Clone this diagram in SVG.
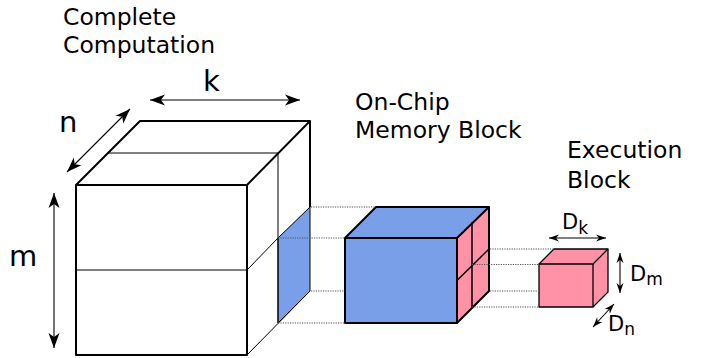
<svg xmlns="http://www.w3.org/2000/svg" width="713" height="358" viewBox="0 0 713 358">
<style>
text{font-family:"DejaVu Sans",Verdana,sans-serif;fill:#000}
.lbl{font-size:23.5px}
.dim{font-size:29px}
.d{font-size:21px}
.sub{font-size:17px}
.outer{fill:none;stroke:#000;stroke-width:2;stroke-linejoin:round}
.thin{fill:none;stroke:#000;stroke-width:1}
.dot{fill:none;stroke:#555;stroke-width:1;stroke-dasharray:1.2,1.2}
.blue{fill:#789fe7}
.pink{fill:#ff92a7}
.arr{stroke:#000;stroke-width:1.1;fill:none}
.big{marker-start:url(#hb);marker-end:url(#hb)}
.small{marker-start:url(#hs);marker-end:url(#hs)}
</style>
<defs>
<marker id="hb" markerUnits="userSpaceOnUse" markerWidth="16" markerHeight="12" refX="15" refY="5.5" orient="auto-start-reverse" overflow="visible">
<path d="M0,0 L15,5.5 L0,11 L4,5.5 Z" fill="#000"/>
</marker>
<marker id="hs" markerUnits="userSpaceOnUse" markerWidth="11" markerHeight="8" refX="10" refY="3.5" orient="auto-start-reverse" overflow="visible">
<path d="M0,0 L10,3.5 L0,7 L3,3.5 Z" fill="#000"/>
</marker>
</defs>
<g id="complete-computation">
<text class="lbl" x="63" y="25">Complete</text>
<text class="lbl" x="63" y="53">Computation</text>
<polygon class="blue" points="278,238 310,207 310,291 278,323"/>
<line x1="108" y1="153" x2="278" y2="153" stroke="#555" stroke-width="1.5"/>
<line class="thin" x1="278" y1="153" x2="278" y2="323"/>
<line class="thin" x1="76" y1="270" x2="247" y2="270"/>
<line class="thin" x1="247" y1="270" x2="278" y2="238"/>
<polygon class="thin" points="278,238 310,207 310,291 278,323"/>
<line class="thin" x1="247" y1="355" x2="310" y2="291"/>
<polyline class="outer" points="76,185 140,121 310,121 310,207"/>
<rect class="outer" x="76" y="185" width="171" height="170"/>
<line class="outer" x1="247" y1="185" x2="310" y2="121"/>
</g>
<g id="memory-block">
<text class="lbl" x="355" y="110">On-Chip</text>
<text class="lbl" x="355" y="138">Memory Block</text>
<polygon class="blue" points="345,238 376,207 489,207 457,238"/>
<polygon class="pink" points="457,238 489,207 489,291 457,323"/>
<rect class="blue" x="345" y="238" width="112" height="85"/>
<line x1="472" y1="222" x2="472" y2="307" stroke="#000" stroke-width="1.5"/>
<line x1="457" y1="280.5" x2="489" y2="249" stroke="#000" stroke-width="1.5"/>
<polygon class="outer" points="345,238 376,207 489,207 489,291 457,323 345,323"/>
<polyline class="outer" points="345,238 457,238 489,207"/>
<line class="outer" x1="457" y1="238" x2="457" y2="323"/>
</g>
<g id="execution-block">
<text class="lbl" x="567" y="158">Execution</text>
<text class="lbl" x="567" y="188">Block</text>
<polygon class="pink" points="539,264 554,249 608,249 608,292 593,307 539,307" stroke="#000" stroke-width="1.3" stroke-linejoin="round"/>
<polyline points="539,264 593,264 608,249" fill="none" stroke="#000" stroke-width="1.3"/>
<line x1="593" y1="264" x2="593" y2="307" stroke="#000" stroke-width="1.3"/>
</g>
<g id="connectors">
<line class="dot" x1="311" y1="207" x2="376" y2="207"/>
<line class="dot" x1="278" y1="238" x2="345" y2="238"/>
<line class="dot" x1="311" y1="291" x2="345" y2="291"/>
<line class="dot" x1="278" y1="323" x2="345" y2="323"/>
<line class="dot" x1="490" y1="249" x2="554" y2="249"/>
<line class="dot" x1="472" y1="264.5" x2="539" y2="264.5"/>
<line class="dot" x1="490" y1="291" x2="539" y2="291"/>
<line class="dot" x1="472" y1="307" x2="539" y2="307"/>
</g>
<g id="dimensions">
<line class="arr big" x1="150" y1="100" x2="300" y2="100"/>
<text class="dim" x="203" y="91">k</text>
<line class="arr big" x1="67" y1="172" x2="130" y2="109"/>
<text class="dim" x="59" y="132">n</text>
<line class="arr big" x1="54" y1="193" x2="54" y2="348"/>
<text class="dim" x="9" y="266">m</text>
<line class="arr small" x1="549" y1="238" x2="606" y2="238"/>
<text class="d" x="562" y="229">D<tspan class="sub" dy="5">k</tspan></text>
<line class="arr small" x1="620" y1="253" x2="620" y2="293"/>
<text class="d" x="630" y="281">D<tspan class="sub" dy="4">m</tspan></text>
<line class="arr small" x1="593" y1="327" x2="614" y2="304"/>
<text class="d" x="608" y="331">D<tspan class="sub" dy="4">n</tspan></text>
</g>
</svg>
